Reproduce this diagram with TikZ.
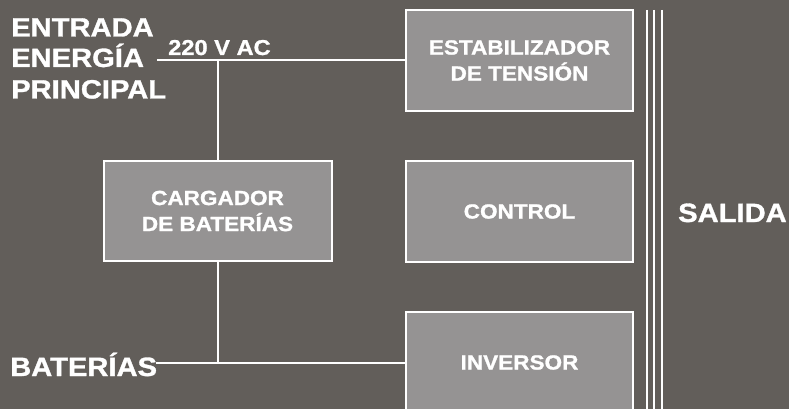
\documentclass[tikz,border=0pt]{standalone}
\usepackage{fontspec}
\setmainfont{Liberation Sans}[BoldFont={* Bold},BoldFeatures={FakeBold=1.2},FakeStretch=1.1]
\definecolor{bgcol}{HTML}{625E5A}
\definecolor{boxcol}{HTML}{959393}
\begin{document}
\begin{tikzpicture}[x=1pt,y=-1pt,
  blk/.style={draw=white, line width=2pt, fill=boxcol, inner sep=0pt,
    minimum width=227pt, minimum height=101pt, text=white, align=center,
    font=\bfseries\fontsize{20.5}{26}\selectfont},
  biglbl/.style={text=white, inner sep=0pt, align=left,
    font=\bfseries\fontsize{26.5}{31}\selectfont},
  wire/.style={draw=white, line width=2pt}]
\useasboundingbox (0,0) rectangle (789,409);
\fill[bgcol] (0,0) rectangle (789,409);
\begin{scope}
\clip (0,0) rectangle (789,409);
% output bus
\draw[wire] (647,10) -- (647,420);
\draw[wire] (654,10) -- (654,420);
\draw[wire] (662,10) -- (662,420);
\node[blk] (est) at (519.5,60.5) {ESTABILIZADOR\\DE TENSIÓN};
\node[blk] (ctl) at (519.5,211.5) {CONTROL};
\node[blk] (inv) at (519.5,362.5) {INVERSOR};
\node[blk, minimum width=228pt, minimum height=100pt] (car) at (217.5,211) {CARGADOR\\DE BATERÍAS};
\end{scope}
\node[biglbl, anchor=base west] (ent) at (11,36.5) {ENTRADA};
\node[biglbl, anchor=base west] (ene) at (11,67) {ENERGÍA};
\node[biglbl, anchor=base west] (pri) at (11,98.5) {PRINCIPAL};
\node[biglbl, anchor=base west] (bat) at (10,376) {BATERÍAS};
\node[biglbl, anchor=base west] (sal) at (678,222) {SALIDA};
\node[text=white, inner sep=0pt, anchor=base west, font=\bfseries\fontsize{21.5}{25}\selectfont] (vac) at (168,55) {220 V AC};
\coordinate (inA) at (157,60);
\coordinate (jA) at (218,60);
\coordinate (inB) at (156,363);
\coordinate (jB) at (218,363);
\draw[wire] (inA) -- (est.west |- inA);
\draw[wire] (jA) -- (jA |- car.north);
\draw[wire] (jB |- car.south) -- (jB);
\draw[wire] (inB) -- (inv.west |- inB);
\end{tikzpicture}
\end{document}
